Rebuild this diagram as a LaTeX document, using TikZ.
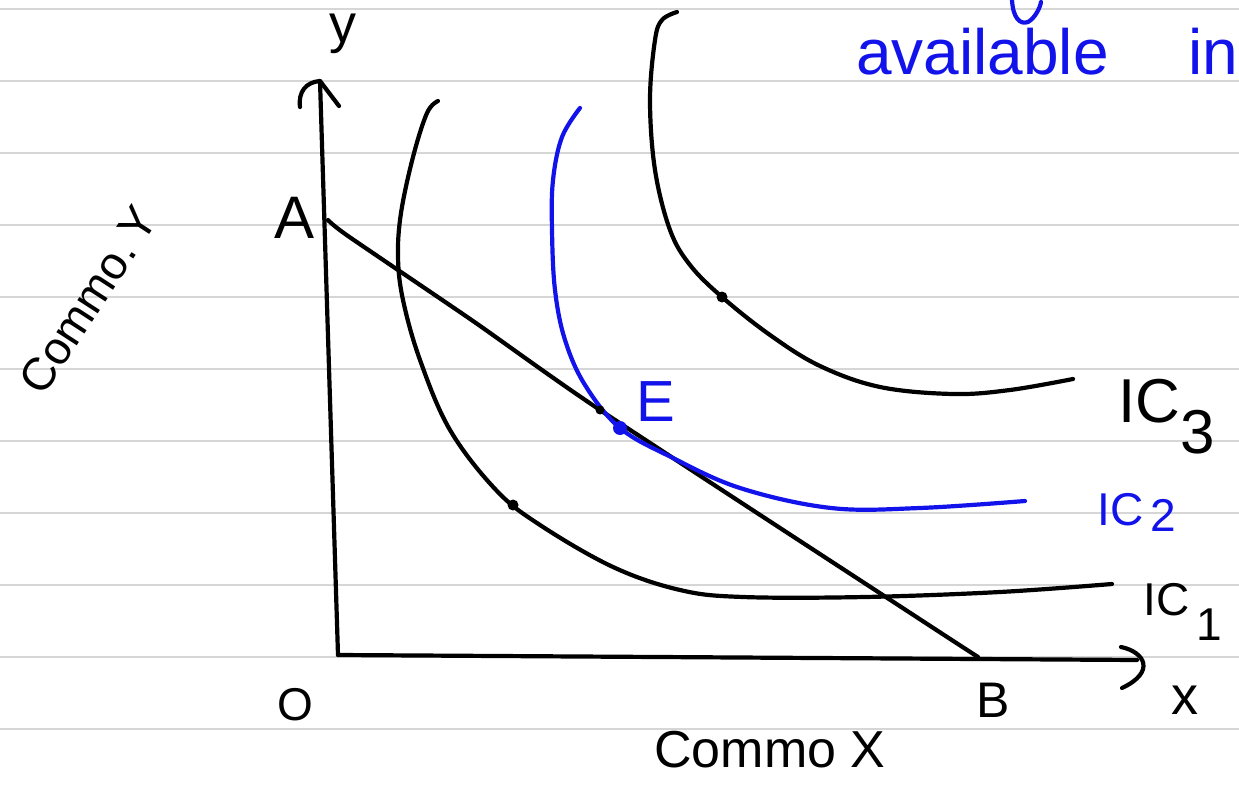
\documentclass[tikz,border=0pt]{standalone}
\usepackage{fontspec}
\setmainfont{Liberation Sans}
\definecolor{handblue}{RGB}{18,18,235}
\definecolor{rulegray}{RGB}{214,214,214}
\begin{document}
\begin{tikzpicture}[x=1pt,y=-1pt,
  ink/.style={line width=4.2pt, line cap=round, line join=round, draw=black},
  blueink/.style={ink, draw=handblue},
  ruling/.style={draw=rulegray, line width=2.5pt},
  dotmark/.style={circle, fill=#1, inner sep=0pt, minimum size=11pt},
  lbl/.style={inner sep=0pt, font=\fontsize{#1}{#1}\selectfont},
  bluelbl/.style={lbl=#1, text=handblue}]
\path[use as bounding box] (0,0) rectangle (1239,786);
\clip (0,0) rectangle (1239,786);
\fill[white] (0,0) rectangle (1239,786);
% ruled paper
\foreach \k in {0,...,10}{\draw[ruling] (0,9+72*\k) -- (1239,9+72*\k);}

% key points
\coordinate (O) at (338,655);
\coordinate (ytop) at (320,81);
\coordinate (xend) at (1137,660);
\coordinate (Apt) at (328,220);
\coordinate (Bpt) at (978,657);

% axes
\draw[ink] (O) -- (ytop);
\draw[ink] (O) -- (xend);
\draw[ink] (300,107) .. controls (298,92) and (306,82) .. (ytop) -- (339,106);
\draw[ink] (1121,647) .. controls (1145,652) and (1156,672) .. (1122,688);

% budget line
\draw[ink] plot[smooth, tension=0.4] coordinates {(Apt) (348,236) (473,321) (600,410) (918,618) (Bpt)};

% indifference curves
\draw[ink] plot[smooth, tension=0.6] coordinates {(438,101) (427,113) (413,157) (401,213) (398,257) (403,300) (420,360) (450,430) (496,490) (540,525) (613,567) (680,590) (743,597) (865,597) (1000,592) (1112,584)};
\draw[blueink] plot[smooth, tension=0.6] coordinates {(580,108) (562,137) (553,180) (552,230) (555,290) (565,340) (585,385) (620,428) (671,457) (740,488) (831,508) (920,508) (1025,501)};
\draw[ink] plot[smooth, tension=0.6] coordinates {(677,12) (662,20) (655,40) (650,100) (655,170) (670,230) (690,265) (722,297) (770,335) (820,366) (880,387) (953,394) (1010,390) (1073,379)};

% points
\node[dotmark=black] (p1) at (513,505) {};
\node[dotmark=black] (p3) at (722,297) {};
\node[dotmark=black, minimum size=9pt] (pb) at (600,410) {};
\node[dotmark=handblue, minimum size=14pt] (E) at (620,428) {};

% labels
\node[bluelbl=58] (Elbl) at (656,402) {E};
\node[lbl=60] (Albl) at (295,218) {A};
\node[lbl=50] (Blbl) at (993,700) {B};
\node[lbl=46] (Olbl) at (295,705) {O};
\node[lbl=54] (xlbl) at (1185,700) {x};
\node[lbl=54] (ylbl) at (343,34) {y};
\node[lbl=52] (xaxis) at (770,750) {Commo X};
\node[lbl=46, rotate=57] (yaxis) at (88,300) {Commo.\,Y};
\node[lbl=62, anchor=base west] (ic3) at (1118,422) {IC\raisebox{-0.5em}{3}};
\node[bluelbl=46, anchor=base west] (ic2) at (1097,525) {IC\,\raisebox{-0.15em}{2}};
\node[lbl=46, anchor=base west] (ic1) at (1143,615) {IC\,\raisebox{-0.55em}{1}};
\node[bluelbl=64, anchor=base west] (avail) at (856,75) {available};
\node[bluelbl=64, anchor=base west] (inword) at (1188,75) {in};
\draw[blueink] (1012,0) .. controls (1013,18) and (1020,25) .. (1028,22) .. controls (1035,18) and (1040,8) .. (1041,2);
\end{tikzpicture}
\end{document}
